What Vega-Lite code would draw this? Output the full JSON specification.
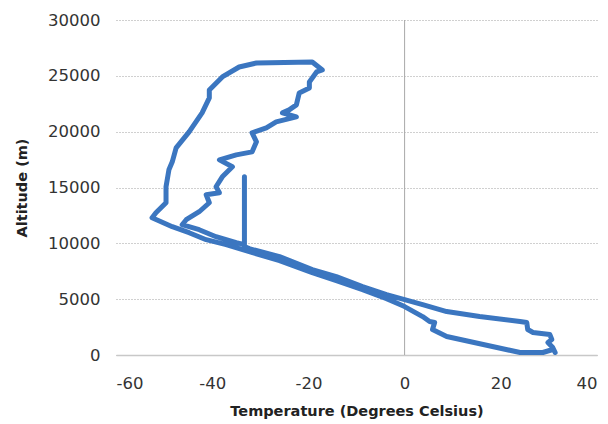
{
  "$schema": "https://vega.github.io/schema/vega-lite/v6.json",
  "width": 481,
  "height": 335,
  "autosize": "none",
  "padding": {"left": 116, "top": 20, "right": 11, "bottom": 69},
  "background": "white",
  "config": {
    "view": {"stroke": null},
    "font": "DejaVu Sans"
  },
  "layer": [
    {
      "data": {"values": [{"x": 0}]},
      "mark": {"type": "rule", "color": "#a8a8a8", "strokeWidth": 1},
      "encoding": {"x": {"field": "x", "type": "quantitative", "scale": {"domain": [-60, 40]}}}
    },
    {
      "data": {"values": [
        {"i": 1, "t": 31.3, "alt": 224},
        {"i": 2, "t": 30.8, "alt": 670},
        {"i": 3, "t": 29.8, "alt": 1118},
        {"i": 4, "t": 30.6, "alt": 1386},
        {"i": 5, "t": 30.2, "alt": 1833},
        {"i": 6, "t": 26.7, "alt": 2012},
        {"i": 7, "t": 25.6, "alt": 2280},
        {"i": 8, "t": 25.4, "alt": 2906},
        {"i": 9, "t": 24.0, "alt": 2995},
        {"i": 10, "t": 15.6, "alt": 3442},
        {"i": 11, "t": 8.75, "alt": 3889},
        {"i": 12, "t": 3.75, "alt": 4515},
        {"i": 13, "t": 0, "alt": 4962},
        {"i": 14, "t": -3.75, "alt": 5409},
        {"i": 15, "t": -8.75, "alt": 6124},
        {"i": 16, "t": -14.2, "alt": 7018},
        {"i": 17, "t": -19.2, "alt": 7644},
        {"i": 18, "t": -26.0, "alt": 8806},
        {"i": 19, "t": -32.3, "alt": 9521},
        {"i": 20, "t": -33.3, "alt": 9700},
        {"i": 21, "t": -33.3, "alt": 15958},
        {"i": 22, "t": -33.3, "alt": 9879},
        {"i": 23, "t": -35.0, "alt": 10058},
        {"i": 24, "t": -39.2, "alt": 10594},
        {"i": 25, "t": -42.7, "alt": 11220},
        {"i": 26, "t": -46.25, "alt": 11667},
        {"i": 27, "t": -45.4, "alt": 12114},
        {"i": 28, "t": -42.7, "alt": 12829},
        {"i": 29, "t": -40.6, "alt": 13634},
        {"i": 30, "t": -41.25, "alt": 14349},
        {"i": 31, "t": -38.5, "alt": 14528},
        {"i": 32, "t": -39.2, "alt": 15064},
        {"i": 33, "t": -37.9, "alt": 15958},
        {"i": 34, "t": -35.8, "alt": 16852},
        {"i": 35, "t": -38.5, "alt": 17478},
        {"i": 36, "t": -35.0, "alt": 17925},
        {"i": 37, "t": -31.7, "alt": 18194},
        {"i": 38, "t": -30.8, "alt": 19088},
        {"i": 39, "t": -31.7, "alt": 19893},
        {"i": 40, "t": -28.75, "alt": 20340},
        {"i": 41, "t": -26.7, "alt": 20876},
        {"i": 42, "t": -22.5, "alt": 21323},
        {"i": 43, "t": -25.4, "alt": 21681},
        {"i": 44, "t": -24.0, "alt": 21949},
        {"i": 45, "t": -22.5, "alt": 22396},
        {"i": 46, "t": -21.9, "alt": 23468},
        {"i": 47, "t": -19.8, "alt": 23915},
        {"i": 48, "t": -19.8, "alt": 24452},
        {"i": 49, "t": -18.3, "alt": 25346},
        {"i": 50, "t": -17.1, "alt": 25525},
        {"i": 51, "t": -19.2, "alt": 26240},
        {"i": 52, "t": -30.8, "alt": 26150},
        {"i": 53, "t": -34.4, "alt": 25793},
        {"i": 54, "t": -37.9, "alt": 24899},
        {"i": 55, "t": -40.6, "alt": 23736},
        {"i": 56, "t": -40.6, "alt": 23021},
        {"i": 57, "t": -42.1, "alt": 21681},
        {"i": 58, "t": -44.8, "alt": 19982},
        {"i": 59, "t": -47.5, "alt": 18552},
        {"i": 60, "t": -48.3, "alt": 17300},
        {"i": 61, "t": -49.0, "alt": 16584},
        {"i": 62, "t": -49.6, "alt": 15064},
        {"i": 63, "t": -49.6, "alt": 13634},
        {"i": 64, "t": -51.7, "alt": 12740},
        {"i": 65, "t": -52.5, "alt": 12293},
        {"i": 66, "t": -48.3, "alt": 11488},
        {"i": 67, "t": -44.8, "alt": 10952},
        {"i": 68, "t": -41.25, "alt": 10326},
        {"i": 69, "t": -37.1, "alt": 9879},
        {"i": 70, "t": -32.3, "alt": 9253},
        {"i": 71, "t": -26.0, "alt": 8448},
        {"i": 72, "t": -19.2, "alt": 7375},
        {"i": 73, "t": -14.2, "alt": 6660},
        {"i": 74, "t": -8.75, "alt": 5856},
        {"i": 75, "t": -3.75, "alt": 5051},
        {"i": 76, "t": 0, "alt": 4336},
        {"i": 77, "t": 3.75, "alt": 3442},
        {"i": 78, "t": 5.2, "alt": 2995},
        {"i": 79, "t": 6.25, "alt": 2906},
        {"i": 80, "t": 5.8, "alt": 2280},
        {"i": 81, "t": 8.75, "alt": 1654},
        {"i": 82, "t": 13.5, "alt": 1207},
        {"i": 83, "t": 19.2, "alt": 670},
        {"i": 84, "t": 24.0, "alt": 224},
        {"i": 85, "t": 28.75, "alt": 224},
        {"i": 86, "t": 30.8, "alt": 492}
      ]},
      "mark": {"type": "line", "color": "#3b76c0", "strokeWidth": 5, "strokeJoin": "round", "strokeCap": "round"},
      "encoding": {
        "x": {
          "field": "t", "type": "quantitative",
          "scale": {"domain": [-60, 40], "nice": false},
          "axis": {
            "title": "Temperature (Degrees Celsius)",
            "values": [-60, -40, -20, 0, 20, 40],
            "labelExpr": "'' + datum.value",
            "grid": false, "ticks": false, "tickSize": 0,
            "domainColor": "#c8c8c8", "domainWidth": 1.5,
            "labelFont": "DejaVu Sans", "labelFontSize": 16.5, "labelColor": "#333333",
            "labelPadding": 20,
            "titleFont": "DejaVu Sans", "titleFontSize": 14.5, "titleFontWeight": "bold", "titleColor": "#222222",
            "titlePadding": 13
          }
        },
        "y": {
          "field": "alt", "type": "quantitative",
          "scale": {"domain": [0, 30000], "nice": false},
          "axis": {
            "title": "Altitude (m)",
            "values": [0, 5000, 10000, 15000, 20000, 25000, 30000],
            "labelExpr": "'' + datum.value",
            "grid": true, "gridColor": "#a0a0a0", "gridDash": [1, 2], "gridWidth": 1,
            "domain": false, "ticks": false, "tickSize": 0,
            "labelFont": "DejaVu Sans", "labelFontSize": 16.5, "labelColor": "#333333",
            "labelPadding": 16,
            "titleFont": "DejaVu Sans", "titleFontSize": 14.5, "titleFontWeight": "bold", "titleColor": "#222222",
            "titlePadding": 18
          }
        },
        "order": {"field": "i", "type": "quantitative"}
      }
    }
  ]
}
